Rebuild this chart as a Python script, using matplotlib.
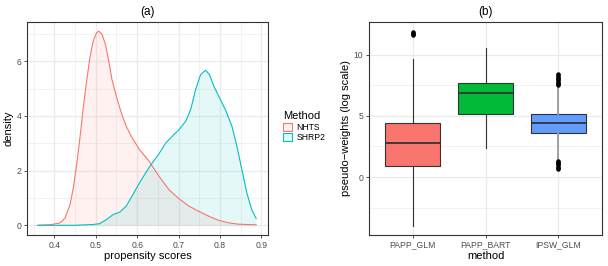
import numpy as np
import matplotlib.pyplot as plt
from matplotlib.colors import to_rgb

plt.rcParams['font.family'] = ['Liberation Sans', 'DejaVu Sans']

# -----------------------------
# Data: (a) density of propensity scores
# -----------------------------
NHTS_X = [0.36, 0.39, 0.4137, 0.4257, 0.4377, 0.4456, 0.4536, 0.4616, 0.4696,
          0.4777, 0.4856, 0.4935, 0.5017, 0.5072, 0.5151, 0.5233, 0.5312,
          0.539, 0.5496, 0.5616, 0.5736, 0.5856, 0.6055, 0.629, 0.653, 0.677,
          0.7014, 0.7254, 0.7494, 0.7734, 0.7974, 0.8214, 0.8453, 0.8878]
NHTS_Y = [0.0, 0.02, 0.09, 0.27, 0.76, 1.37, 2.22, 3.20, 4.30,
          5.27, 6.12, 6.73, 7.04, 7.10, 6.98, 6.61, 6.00,
          5.33, 4.72, 4.11, 3.62, 3.26, 2.77, 2.34, 1.79, 1.30,
          0.97, 0.70, 0.51, 0.33, 0.18, 0.09, 0.04, 0.02]

SHRP2_X = [0.36, 0.45, 0.4936, 0.5096, 0.5256, 0.5415, 0.5576, 0.5736, 0.5895,
           0.6055, 0.629, 0.653, 0.669, 0.685, 0.7014, 0.7175, 0.7295, 0.7415,
           0.7535, 0.7655, 0.775, 0.7854, 0.7974, 0.8134, 0.8293, 0.8413,
           0.8533, 0.8652, 0.8772, 0.8878]
SHRP2_Y = [0.0, 0.0, 0.03, 0.06, 0.21, 0.39, 0.48, 0.70, 1.12,
           1.55, 2.12, 2.62, 3.01, 3.26, 3.50, 3.81, 4.23, 4.97,
           5.51, 5.67, 5.51, 5.09, 4.72, 4.23, 3.62, 2.89,
           2.04, 1.19, 0.57, 0.25]

GROUPS = ['NHTS', 'SHRP2']

# -----------------------------
# Data: (b) pseudo-weight boxplots
# -----------------------------
METHODS = ['PAPP_GLM', 'PAPP_BART', 'IPSW_GLM']
Q1 = [0.92, 5.12, 3.60]
MEDIAN = [2.75, 6.86, 4.39]
Q3 = [4.41, 7.70, 5.17]
WHISK_LO = [-3.98, 2.37, 1.39]
WHISK_HI = [9.62, 10.55, 7.44]
OUTLIERS = [
    [11.60, 11.68, 11.75, 11.82],
    [],
    [7.50, 7.60, 7.70, 7.80, 7.90, 8.00, 8.10, 8.20, 8.30, 8.40,
     0.65, 0.75, 0.85, 0.95, 1.05, 1.15, 1.25, 1.33],
]

# -----------------------------
# Style
# -----------------------------
RED = '#F8766D'
CYAN = '#00BFC4'
BOX_COLORS = ['#F8766D', '#00BA38', '#619CFF']
GRID = '#EBEBEB'
DARK = '#333333'
TICK_TXT = '#4D4D4D'


def style_axes(ax):
    for s in ax.spines.values():
        s.set_color(DARK)
        s.set_linewidth(0.8)
    ax.tick_params(colors=DARK, labelcolor=TICK_TXT, labelsize=6.2,
                   length=2.5, width=0.6, pad=1.5)
    ax.grid(True, which='major', color=GRID, linewidth=0.9)
    ax.grid(True, which='minor', color=GRID, linewidth=0.45)
    ax.tick_params(which='minor', length=0)
    ax.set_axisbelow(True)


fig = plt.figure(figsize=(6.08, 2.66), dpi=100)

# -----------------------------
# Panel (a)
# -----------------------------
ax1 = fig.add_axes([27 / 608, 31 / 266, 241 / 608, 213 / 266])
style_axes(ax1)
for xs, ys, col, lab in [(NHTS_X, NHTS_Y, RED, GROUPS[0]),
                         (SHRP2_X, SHRP2_Y, CYAN, GROUPS[1])]:
    ax1.fill_between(xs, ys, color=col, alpha=0.1, linewidth=0)
    ax1.plot(xs, ys, color=col, linewidth=0.8, label=lab)
ax1.set_xlim(0.3335, 0.9165)
ax1.set_ylim(-0.354, 7.434)
ax1.set_xticks([0.4, 0.5, 0.6, 0.7, 0.8, 0.9])
ax1.set_xticks([0.35, 0.45, 0.55, 0.65, 0.75, 0.85], minor=True)
ax1.set_yticks([0, 2, 4, 6])
ax1.set_yticks([1, 3, 5, 7], minor=True)
ax1.set_xlabel('propensity scores', fontsize=8, labelpad=1)
ax1.set_ylabel('density', fontsize=8, labelpad=2)
ax1.set_title('(a)', fontsize=8.5, pad=5)

handles = []
for c in (RED, CYAN):
    h = plt.Rectangle((0, 0), 1, 1, facecolor=(*to_rgb(c), 0.1),
                      edgecolor=c, linewidth=0.8)
    handles.append(h)
leg = fig.legend(handles, GROUPS, title='Method', loc='upper left',
                 bbox_to_anchor=(280 / 608, 1 - 108 / 266), frameon=False,
                 fontsize=6.2, title_fontsize=8, handlelength=1.0,
                 handleheight=1.0, handletextpad=0.5, labelspacing=0.15,
                 borderaxespad=0)
leg._legend_box.align = 'left'

# -----------------------------
# Panel (b)
# -----------------------------
ax2 = fig.add_axes([369 / 608, 31 / 266, 233 / 608, 213 / 266])
style_axes(ax2)
stats = []
for i, m in enumerate(METHODS):
    stats.append(dict(label=m, q1=Q1[i], med=MEDIAN[i], q3=Q3[i],
                      whislo=WHISK_LO[i], whishi=WHISK_HI[i],
                      fliers=OUTLIERS[i]))
bp = ax2.bxp(stats, positions=[1, 2, 3], widths=0.75, patch_artist=True,
             showcaps=False,
             boxprops=dict(edgecolor=DARK, linewidth=0.8),
             medianprops=dict(color=DARK, linewidth=1.3),
             whiskerprops=dict(color=DARK, linewidth=0.8),
             flierprops=dict(marker='o', markerfacecolor='black',
                             markeredgecolor='black', markersize=2.2))
for patch, col in zip(bp['boxes'], BOX_COLORS):
    patch.set_facecolor(col)
for w in bp['whiskers'][4:]:
    w.set_color('#9A9A9A')
    w.set_linewidth(1.3)
ax2.set_xlim(0.4, 3.6)
ax2.set_ylim(-4.74, 12.67)
ax2.set_yticks([0, 5, 10])
ax2.set_yticks([-2.5, 2.5, 7.5], minor=True)
ax2.set_xlabel('method', fontsize=8, labelpad=1)
ax2.set_ylabel('pseudo\u2212weights (log scale)', fontsize=8, labelpad=2)
ax2.set_title('(b)', fontsize=8.5, pad=5)

fig.savefig('out.png', dpi=100)
